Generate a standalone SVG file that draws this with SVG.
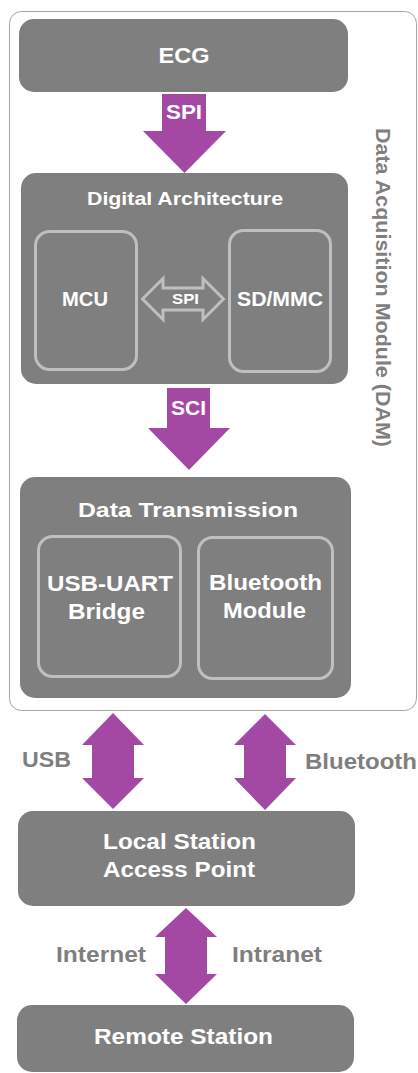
<svg xmlns="http://www.w3.org/2000/svg" width="418" height="1073" viewBox="0 0 418 1073">
<style>
.box{fill:#7f7f7f}
.inner{fill:#7f7f7f;stroke:#bfbfbf;stroke-width:3}
.arrow{fill:#a349a4}
.t{font-family:"Liberation Sans",Arial,sans-serif;font-weight:bold;fill:#ffffff;text-anchor:middle}
.lbl{font-family:"Liberation Sans",Arial,sans-serif;font-weight:bold;fill:#7f7f7f}
</style>
<rect width="418" height="1073" fill="#ffffff"/>
<g id="dam">
<rect x="9.5" y="11.5" width="407" height="699" rx="12" fill="#ffffff" stroke="#a6a6a6" stroke-width="1"/>
<text class="lbl" font-size="21" transform="translate(376,128) rotate(90)" textLength="319" lengthAdjust="spacingAndGlyphs">Data Acquisition Module (DAM)</text>
</g>
<g id="ecg">
<rect class="box" x="19" y="19" width="329" height="73" rx="15"/>
<text class="t" x="184" y="63" font-size="22" textLength="51" lengthAdjust="spacingAndGlyphs">ECG</text>
</g>
<g id="digital">
<rect class="box" x="21" y="173" width="327" height="211" rx="15"/>
<text class="t" x="185" y="205" font-size="19" textLength="196" lengthAdjust="spacingAndGlyphs">Digital Architecture</text>
</g>
<g id="mcu">
<rect class="inner" x="35.5" y="231.5" width="101" height="138" rx="14"/>
<text class="t" x="85" y="306" font-size="20" textLength="46" lengthAdjust="spacingAndGlyphs">MCU</text>
</g>
<g id="sdmmc">
<rect class="inner" x="229.5" y="230.5" width="101" height="141" rx="14"/>
<text class="t" x="280" y="306" font-size="20" textLength="86" lengthAdjust="spacingAndGlyphs">SD/MMC</text>
</g>
<g id="datatx">
<rect class="box" x="20" y="477" width="331" height="221" rx="15"/>
<text class="t" x="188" y="517" font-size="21" textLength="220" lengthAdjust="spacingAndGlyphs">Data Transmission</text>
</g>
<g id="usbuart">
<rect class="inner" x="38.5" y="536.5" width="142" height="140" rx="14"/>
<text class="t" x="110" y="591" font-size="22" textLength="126" lengthAdjust="spacingAndGlyphs">USB-UART</text>
<text class="t" x="106.5" y="619" font-size="22" textLength="77" lengthAdjust="spacingAndGlyphs">Bridge</text>
</g>
<g id="btmodule">
<rect class="inner" x="198.5" y="537.5" width="134" height="141" rx="14"/>
<text class="t" x="265.5" y="590" font-size="22" textLength="113" lengthAdjust="spacingAndGlyphs">Bluetooth</text>
<text class="t" x="264.5" y="618" font-size="22" textLength="83" lengthAdjust="spacingAndGlyphs">Module</text>
</g>
<g id="local">
<rect class="box" x="18" y="811" width="337" height="95" rx="15"/>
<text class="t" x="179.5" y="849" font-size="22" textLength="153" lengthAdjust="spacingAndGlyphs">Local Station</text>
<text class="t" x="179" y="877" font-size="22" textLength="152" lengthAdjust="spacingAndGlyphs">Access Point</text>
</g>
<g id="remote">
<rect class="box" x="17" y="1005" width="337" height="67" rx="15"/>
<text class="t" x="183.5" y="1044" font-size="22" textLength="179" lengthAdjust="spacingAndGlyphs">Remote Station</text>
</g>
<g id="connectors">
<polygon class="arrow" points="162,94 206,94 206,131 226,131 184.5,173 143,131 162,131"/>
<text class="t" x="184" y="119" font-size="21" textLength="36" lengthAdjust="spacingAndGlyphs">SPI</text>
<polygon points="142.5,299 163,278.5 163,288 203,288 203,278.5 223.5,299 203,319.5 203,310 163,310 163,319.5" fill="#7f7f7f" stroke="#bfbfbf" stroke-width="3" stroke-linejoin="miter"/>
<text class="t" x="185.5" y="304" font-size="15" textLength="27" lengthAdjust="spacingAndGlyphs">SPI</text>
<polygon class="arrow" points="167,388 210,388 210,428 230,428 189,470 148,428 167,428"/>
<text class="t" x="188.5" y="415" font-size="21" textLength="35" lengthAdjust="spacingAndGlyphs">SCI</text>
<polygon class="arrow" points="113,713 144,745 134,745 134,778 144,778 113,809 82,778 92,778 92,745 82,745"/>
<polygon class="arrow" points="265,714 296,745 286,745 286,778 296,778 265,810 234,778 244,778 244,745 234,745"/>
<polygon class="arrow" points="186,908 217,937 207,937 207,974 217,974 186,1004 155,974 165,974 165,937 155,937"/>
<text class="lbl" x="22" y="767" font-size="22" textLength="49" lengthAdjust="spacingAndGlyphs">USB</text>
<text class="lbl" x="305" y="769" font-size="22" textLength="112" lengthAdjust="spacingAndGlyphs">Bluetooth</text>
<text class="lbl" x="56" y="962" font-size="22" textLength="90" lengthAdjust="spacingAndGlyphs">Internet</text>
<text class="lbl" x="232" y="962" font-size="22" textLength="90" lengthAdjust="spacingAndGlyphs">Intranet</text>
</g>
</svg>
